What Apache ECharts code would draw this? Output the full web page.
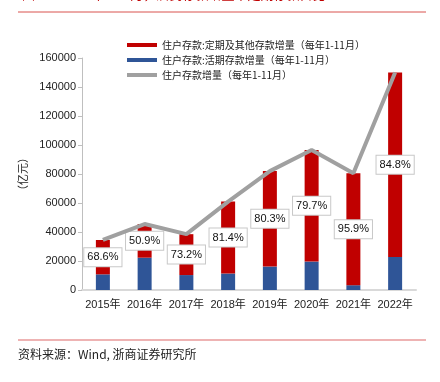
<!DOCTYPE html>
<html><head><meta charset="utf-8">
<script src="https://cdn.jsdelivr.net/npm/echarts@6/dist/echarts.min.js"></script>
<style>html,body{margin:0;padding:0;background:#fff}#c{width:440px;height:382px}</style>
</head><body><div id="c"></div>
<script>
const categories = ['2015年','2016年','2017年','2018年','2019年','2020年','2021年','2022年'];
const fixedOther = [23700, 23200, 28200, 49650, 65850, 76900, 77200, 127200];
const demand = [10800, 22300, 10300, 11350, 16150, 19600, 3300, 22800];
const total = [34500, 45500, 38500, 61000, 82000, 96500, 80500, 150000];
const shareLabels = ['68.6%','50.9%','73.2%','81.4%','80.3%','79.7%','95.9%','84.8%'];
const seriesNames = ['住户存款:定期及其他存款增量（每年1-11月）','住户存款:活期存款增量（每年1-11月）','住户存款增量（每年1-11月）'];

const chart = echarts.init(document.getElementById('c'));
const cjk = '"Noto Sans CJK SC", "Liberation Sans", sans-serif';
const latin = '"Liberation Sans", "Noto Sans CJK SC", sans-serif';
chart.setOption({
  animation: false,
  textStyle: {fontFamily: cjk},
  grid: {left: 82, right: 24, top: 58, bottom: 92},
  legend: {
    orient: 'vertical', left: 122, top: 34,
    itemWidth: 30, itemHeight: 4, itemGap: 3,
    icon: 'rect',
    textStyle: {fontSize: 10, color: '#222', lineHeight: 12, fontFamily: cjk},
    data: seriesNames
  },
  xAxis: {
    type: 'category', data: categories,
    axisLine: {lineStyle: {color: '#d9d9d9', width: 2}},
    axisTick: {show: false},
    axisLabel: {interval: 0, fontSize: 11, color: '#222', margin: 9, fontFamily: latin}
  },
  yAxis: {
    type: 'value', min: 0, max: 160000, interval: 20000,
    name: '（亿元）', nameLocation: 'middle', nameGap: 40,
    nameTextStyle: {fontSize: 11, color: '#222', fontFamily: cjk},
    axisLine: {show: true, lineStyle: {color: '#bfbfbf', width: 1}},
    axisTick: {show: true, length: 4, lineStyle: {color: '#bfbfbf'}},
    splitLine: {show: false},
    axisLabel: {fontSize: 11, color: '#222', margin: 6, fontFamily: latin, formatter: v => String(v)}
  },
  series: [
    {name: seriesNames[1], type: 'bar', stack: 's', data: demand, barWidth: 14,
     itemStyle: {color: '#2F5597'}},
    {name: seriesNames[0], type: 'bar', stack: 's', data: fixedOther, barWidth: 14,
     itemStyle: {color: '#C00000'},
     label: {show: true, position: 'inside',
       formatter: p => shareLabels[p.dataIndex],
       backgroundColor: '#fff', borderColor: '#c8c8c8', borderWidth: 1,
       padding: [4, 3, 3, 3], fontSize: 11, color: '#111', fontFamily: latin}},
    {name: seriesNames[2], type: 'line', data: total, symbol: 'none', z: 5,
     lineStyle: {color: '#a0a0a0', width: 4}, itemStyle: {color: '#a0a0a0'}}
  ],
  graphic: [
    {type: 'text', left: 22, top: -12, style: {text: '图14：2022年1-11月，居民存款增量中定期存款占比84.8%', fontSize: 13, fill: '#c00000', fontFamily: cjk}},
    {type: 'line', shape: {x1: 18, y1: 12, x2: 426, y2: 12}, style: {stroke: '#d9534f', lineWidth: 1}},
    {type: 'line', shape: {x1: 18, y1: 340, x2: 426, y2: 340}, style: {stroke: '#e89a9a', lineWidth: 1.5}},
    {type: 'text', left: 18, top: 348, style: {text: '资料来源：Wind, 浙商证券研究所', fontSize: 12, fill: '#222', fontFamily: cjk}}
  ]
});
</script></body></html>
